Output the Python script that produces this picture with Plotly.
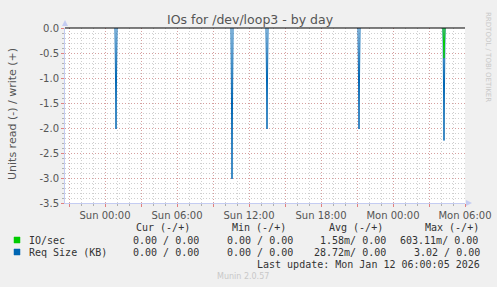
import plotly.graph_objects as go

# ---------------- data ----------------
x_start = "2026-01-10 20:40"
x_end = "2026-01-12 06:00"

# Req Size (KB), read side (plotted negative); each spike: before / peak / after
req_times = ["2026-01-11 00:50", "2026-01-11 00:55", "2026-01-11 01:00", None,
             "2026-01-11 10:30", "2026-01-11 10:35", "2026-01-11 10:40", None,
             "2026-01-11 13:25", "2026-01-11 13:30", "2026-01-11 13:35", None,
             "2026-01-11 21:05", "2026-01-11 21:10", "2026-01-11 21:15", None,
             "2026-01-12 04:10", "2026-01-12 04:15", "2026-01-12 04:20"]
req_read = [0.0, 2.02, 0.0, None,
            0.0, 3.02, 0.0, None,
            0.0, 2.02, 0.0, None,
            0.0, 2.02, 0.0, None,
            0.0, 2.25, 0.0]

# IO/sec, read side
io_times = ["2026-01-12 04:10", "2026-01-12 04:15", "2026-01-12 04:20"]
io_read = [0.0, 0.603, 0.0]

x_tickvals = ["2026-01-10 21:00", "2026-01-11 00:00", "2026-01-11 03:00",
              "2026-01-11 06:00", "2026-01-11 09:00", "2026-01-11 12:00",
              "2026-01-11 15:00", "2026-01-11 18:00", "2026-01-11 21:00",
              "2026-01-12 00:00", "2026-01-12 03:00", "2026-01-12 06:00"]
x_ticktext = ["", "Sun 00:00", "", "Sun 06:00", "", "Sun 12:00", "",
              "Sun 18:00", "", "Mon 00:00", "", "Mon 06:00"]

y_tickvals = [0.0, -0.5, -1.0, -1.5, -2.0, -2.5, -3.0, -3.5]
y_ticktext = ["0.0", "-0.5", "-1.0", "-1.5", "-2.0", "-2.5", "-3.0", "-3.5"]

legend_header = ["Cur (-/+)", "Min (-/+)", "Avg (-/+)", "Max (-/+)"]
series_names = ["IO/sec", "Req Size (KB)"]
series_colors = ["#00cc00", "#0066b3"]
series_stats = [
    ["0.00 / 0.00", "0.00 / 0.00", "1.58m/ 0.00", "603.11m/ 0.00"],
    ["0.00 / 0.00", "0.00 / 0.00", "28.72m/ 0.00", "3.02 / 0.00"],
]

# ---------------- layout helpers ----------------
W, H = 497, 287
L, R, T, B = 65, 465, 28, 203


def px(x):
    return (x - L) / (R - L)


def py(y):
    return (B - y) / (B - T)


fig = go.Figure()
fig.add_trace(go.Scatter(x=req_times, y=[None if v is None else -v for v in req_read],
                         mode="lines", connectgaps=False,
                         line=dict(color=series_colors[1], width=1),
                         hoverinfo="skip", showlegend=False))
fig.add_trace(go.Scatter(x=io_times, y=[-v for v in io_read], mode="lines",
                         line=dict(color=series_colors[0], width=1),
                         hoverinfo="skip", showlegend=False))

major_grid = "rgba(220,120,120,0.55)"
minor_grid = "rgba(160,160,160,0.5)"
axis_col = "#c4ccf2"
font_sans = "DejaVu Sans"
font_mono = "DejaVu Sans Mono"

fig.update_layout(
    width=W, height=H,
    margin=dict(l=L, r=W - R, t=T, b=H - B, pad=0, autoexpand=False),
    paper_bgcolor="#f0f0f0", plot_bgcolor="#ffffff",
    showlegend=False,
    font=dict(family=font_sans, size=10, color="#555555"),
    xaxis=dict(
        type="date", range=[x_start, x_end], automargin=False,
        tickmode="array", tickvals=x_tickvals, ticktext=x_ticktext,
        showgrid=True, gridcolor=major_grid, griddash="1px,2px", gridwidth=1,
        ticks="outside", ticklen=3, tickcolor="#e08080", tickwidth=1,
        showline=True, linecolor=axis_col, linewidth=1,
        tickfont=dict(family=font_sans, size=10, color="#555555"),
        zeroline=False, fixedrange=True,
        minor=dict(tick0="2026-01-10 21:00", dtick=3600000, showgrid=True,
                   gridcolor=minor_grid, griddash="1px,2px", gridwidth=1,
                   ticks="outside", ticklen=2, tickcolor="#b0b0b0"),
    ),
    yaxis=dict(
        range=[-3.5, 0.0], automargin=False,
        tickmode="array", tickvals=y_tickvals, ticktext=y_ticktext,
        showgrid=True, gridcolor=major_grid, griddash="1px,2px", gridwidth=1,
        ticks="outside", ticklen=3, tickcolor="#e08080", tickwidth=1,
        showline=True, linecolor=axis_col, linewidth=1,
        tickfont=dict(family=font_sans, size=10, color="#555555"),
        zeroline=False, fixedrange=True,
        minor=dict(tick0=0, dtick=0.1, showgrid=True,
                   gridcolor=minor_grid, griddash="1px,2px", gridwidth=1,
                   ticks="outside", ticklen=2, tickcolor="#b0b0b0"),
    ),
)

shapes = []
# zero line
shapes.append(dict(type="line", xref="paper", yref="paper", x0=0, x1=1, y0=1, y1=1,
                   line=dict(color="#000000", width=1.2), layer="above"))
# axis arrows
shapes.append(dict(type="path", xref="paper", yref="paper",
                   path=f"M {px(62)} {py(26)} L {px(68)} {py(26)} L {px(65)} {py(20)} Z",
                   fillcolor=axis_col, line=dict(width=0)))
shapes.append(dict(type="path", xref="paper", yref="paper",
                   path=f"M {px(466)} {py(200)} L {px(466)} {py(206)} L {px(472)} {py(203)} Z",
                   fillcolor=axis_col, line=dict(width=0)))
# legend squares
for i, col in enumerate(series_colors):
    yc = 240 + 12 * i
    shapes.append(dict(type="rect", xref="paper", yref="paper",
                       x0=px(14), x1=px(20), y0=py(yc - 3), y1=py(yc + 3),
                       fillcolor=col, line=dict(color=col, width=0.5)))
fig.update_layout(shapes=shapes)

ann = []


def text(x, y, s, size=10, family=font_mono, color="#333333", xanchor="left", angle=0):
    ann.append(dict(xref="paper", yref="paper", x=px(x), y=py(y), text=s,
                    showarrow=False, xanchor=xanchor, yanchor="middle",
                    textangle=angle,
                    font=dict(family=family, size=size, color=color)))


# title
text(250, 19, "IOs for /dev/loop3 - by day", size=12.5, family=font_sans,
     color="#555555", xanchor="center")
# y-axis title
text(12, 114, "Units read (-) / write (+)", size=11, family=font_sans,
     color="#555555", xanchor="center", angle=-90)
# right side credit
text(488, 57, "RRDTOOL / TOBI OETIKER", size=7, family=font_sans,
     color="#c8c8c8", xanchor="center", angle=90)

header_x = [134, 230, 327, 423]
for hx, h in zip(header_x, legend_header):
    text(hx, 227, h)

stat_x = [[131, 225, 318, 398], [131, 225, 312, 412]]
for i, name in enumerate(series_names):
    yrow = 240 + 12 * i
    text(27, yrow, name)
    for sx, s in zip(stat_x[i], series_stats[i]):
        text(sx, yrow, s)

text(482, 264, "Last update: Mon Jan 12 06:00:05 2026", xanchor="right")
text(243, 276, "Munin 2.0.57", size=8, family=font_sans, color="#c8c8c8",
     xanchor="center")

fig.update_layout(annotations=ann)
fig.write_html("out.html")
